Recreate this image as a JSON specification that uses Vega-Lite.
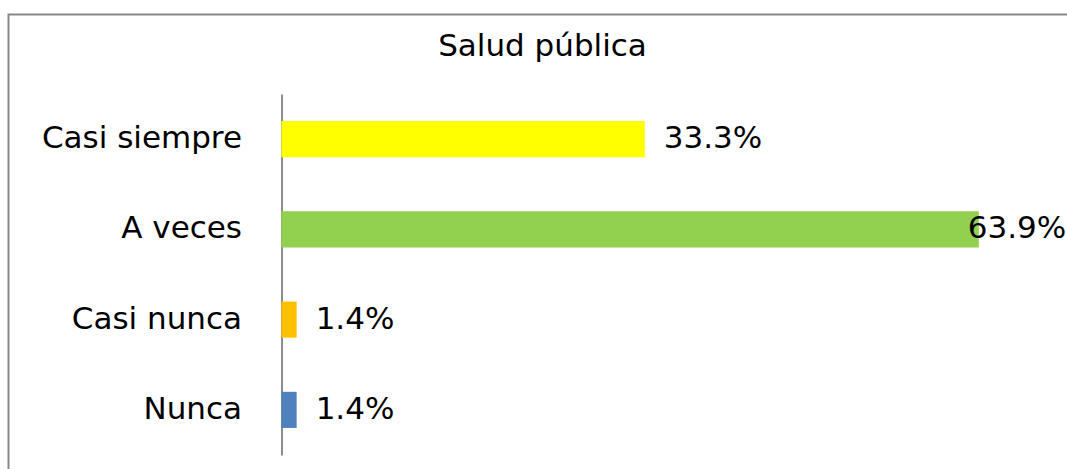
{
  "$schema": "https://vega.github.io/schema/vega-lite/v6.json",
  "autosize": {"type": "none"},
  "padding": {"left": 8.5, "top": 14.5, "right": 0, "bottom": 0},
  "width": 1080,
  "height": 470,
  "background": "white",
  "title": {
    "text": "Salud pública",
    "font": "DejaVu Sans",
    "fontSize": 31,
    "fontWeight": "normal",
    "color": "#000000",
    "anchor": "middle",
    "frame": "group",
    "baseline": "alphabetic",
    "offset": -72,
    "dx": -6
  },
  "config": {
    "view": {"stroke": "#878787", "strokeWidth": 2},
    "font": "DejaVu Sans"
  },
  "data": {
    "values": [
      {"cat": "Casi siempre", "value": 33.3, "label": "33.3%", "color": "#FFFF00"},
      {"cat": "A veces", "value": 63.9, "label": "63.9%", "color": "#92D050"},
      {"cat": "Casi nunca", "value": 1.4, "label": "1.4%", "color": "#FFC000"},
      {"cat": "Nunca", "value": 1.4, "label": "1.4%", "color": "#4F81BD"}
    ]
  },
  "encoding": {
    "y": {
      "field": "cat",
      "type": "nominal",
      "sort": ["Casi siempre", "A veces", "Casi nunca", "Nunca"],
      "scale": {"range": [79.5, 440.5], "paddingInner": 0.6, "paddingOuter": 0.3},
      "axis": {
        "title": null,
        "offset": -273,
        "ticks": false,
        "domainColor": "#8c8c8c",
        "domainWidth": 2,
        "labelFont": "DejaVu Sans",
        "labelFontSize": 31,
        "labelColor": "#000000",
        "labelPadding": 40,
        "labelLimit": 400
      }
    }
  },
  "layer": [
    {
      "mark": {"type": "bar"},
      "encoding": {
        "x": {
          "field": "value",
          "type": "quantitative",
          "scale": {"domain": [-25, 73.95], "nice": false, "zero": false},
          "axis": null
        },
        "x2": {"datum": 0},
        "color": {"field": "color", "type": "nominal", "scale": null}
      }
    },
    {
      "transform": [{"filter": "datum.value < 50"}],
      "mark": {"type": "text", "align": "left", "baseline": "middle", "dx": 19, "font": "DejaVu Sans", "fontSize": 31, "color": "#000000"},
      "encoding": {
        "x": {"field": "value", "type": "quantitative"},
        "text": {"field": "label"}
      }
    },
    {
      "transform": [{"filter": "datum.value >= 50"}],
      "mark": {"type": "text", "align": "left", "baseline": "middle", "dx": -11, "font": "DejaVu Sans", "fontSize": 31, "color": "#000000"},
      "encoding": {
        "x": {"field": "value", "type": "quantitative"},
        "text": {"field": "label"}
      }
    }
  ]
}
